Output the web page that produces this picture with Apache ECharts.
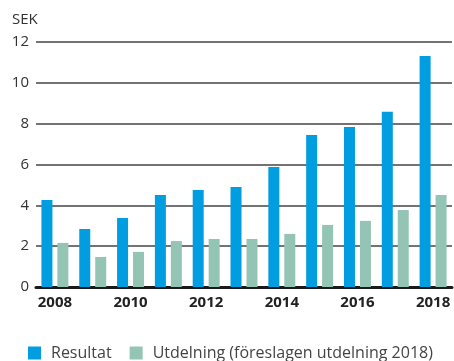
<!DOCTYPE html>
<html>
<head>
<meta charset="utf-8">
<script src="https://cdn.jsdelivr.net/npm/echarts@6/dist/echarts.min.js"></script>
<style>
  html, body { margin: 0; padding: 0; background: #fff; }
  #chart { width: 454px; height: 361px; }
</style>
</head>
<body>
<div id="chart"></div>
<script>
// Years on the category axis
var years = ['2008', '2009', '2010', '2011', '2012', '2013', '2014', '2015', '2016', '2017', '2018'];
// Earnings per share, SEK
var resultat = [4.26, 2.84, 3.38, 4.51, 4.75, 4.90, 5.88, 7.45, 7.84, 8.58, 11.32];
// Dividend per share, SEK (2018 proposed)
var utdelning = [2.16, 1.47, 1.72, 2.25, 2.35, 2.35, 2.60, 3.04, 3.24, 3.77, 4.51];
var yTicks = [0, 2, 4, 6, 8, 10, 12];

var font = '"Open Sans", "Noto Sans", sans-serif';
var chart = echarts.init(document.getElementById('chart'));
chart.setOption({
  animation: false,
  textStyle: { fontFamily: font },
  graphic: [{
    type: 'text', left: 12, top: 12,
    style: { text: 'SEK', fontSize: 15, fill: '#333', fontFamily: font }
  }],
  legend: {
    top: 345, left: 28, padding: 0,
    itemWidth: 13, itemHeight: 13, itemGap: 18,
    icon: 'rect',
    textStyle: { fontSize: 16, color: '#444', fontFamily: font, padding: [0, 0, 0, 5] },
    data: ['Resultat', 'Utdelning (föreslagen utdelning 2018)']
  },
  grid: { left: 36, right: 2, top: 42, bottom: 74, containLabel: false },
  xAxis: {
    type: 'category',
    data: years,
    axisLine: { lineStyle: { color: '#1a1a1a', width: 3 } },
    axisTick: { show: false },
    axisLabel: {
      interval: 1, fontSize: 15, fontWeight: 'bold', color: '#222', margin: 8,
      fontFamily: font
    }
  },
  yAxis: {
    type: 'value',
    min: yTicks[0], max: yTicks[yTicks.length - 1], interval: 2,
    axisLine: { show: false },
    axisTick: { show: false },
    axisLabel: { fontSize: 15, color: '#333', margin: 7, fontFamily: font },
    splitLine: { lineStyle: { color: '#444', width: 1.5 } }
  },
  series: [{
    name: 'Resultat', type: 'bar', data: resultat,
    barWidth: 11, barGap: '45%',
    itemStyle: { color: '#009ee0' }
  }, {
    name: 'Utdelning (föreslagen utdelning 2018)', type: 'bar', data: utdelning,
    barWidth: 11,
    itemStyle: { color: '#94c4b4' }
  }]
});
</script>
</body>
</html>
